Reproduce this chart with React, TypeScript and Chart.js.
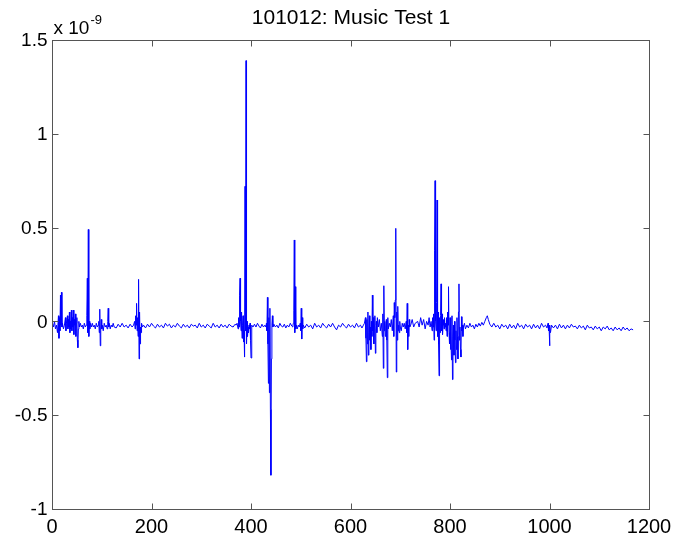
import React, { useEffect, useRef } from "react";
import { Chart, registerables } from "chart.js";

Chart.register(...registerables);

const TITLE = "101012: Music Test 1";
const EXPONENT_BASE = "x 10";
const EXPONENT_POWER = "-9";
const X_MIN = 0;
const X_MAX = 1200;
const X_STEP = 200;
const Y_MIN = -1;
const Y_MAX = 1.5;
const Y_STEP = 0.5;

// values in units of 1e-9, as [sample index, value]
const burstStart: [number, number][] = [
  [1, -0.01], [3, -0.03], [5, 0.0], [7, -0.04], [9, -0.02], [11, -0.06], [13, 0.03], [14, -0.09],
  [15, 0.02], [16, -0.05], [17, 0.14], [18, -0.02], [19, 0.155], [20, -0.03], [21, -0.01], [23, -0.04],
  [25, -0.02], [27, 0.02], [28, -0.05], [29, -0.01], [31, 0.03], [32, -0.04], [33, 0.01], [34, -0.03],
  [35, 0.05], [36, -0.06], [37, 0.0], [38, -0.04], [39, 0.06], [40, -0.05], [41, 0.02], [42, -0.03],
  [43, 0.06], [44, -0.07], [45, 0.01], [46, -0.02], [47, 0.04], [48, -0.08], [49, -0.01], [50, 0.02],
  [51, -0.1], [52, -0.14], [53, -0.04], [54, 0.0], [55, -0.03], [57, -0.01], [59, -0.03], [61, -0.02],
  [63, -0.04], [65, -0.01], [67, -0.03], [69, -0.02], [70, 0.03], [71, 0.23], [72, -0.06], [73, 0.49],
  [74, -0.08], [75, 0.0], [76, -0.04], [77, -0.01], [79, -0.03], [81, -0.01], [83, -0.03], [85, -0.02],
  [87, -0.04], [89, -0.01], [91, -0.03], [93, -0.02], [94, 0.0], [95, -0.06], [96, 0.065], [97, -0.13],
  [98, -0.05], [99, 0.01], [100, -0.04], [101, -0.02], [103, -0.05], [105, -0.01], [107, -0.03], [109, -0.02],
  [111, -0.04], [112, 0.0], [113, 0.07], [114, -0.03], [115, -0.01], [117, -0.04], [119, -0.02], [121, -0.03],
  [123, -0.01], [125, -0.03], [129, -0.035], [133, -0.015], [137, -0.03], [141, -0.01], [145, -0.03],
  [149, -0.02], [153, -0.035], [157, -0.015], [161, -0.03], [164, -0.02], [166, 0.0], [167, -0.04],
  [168, 0.03], [169, -0.02], [170, 0.096], [171, -0.05], [172, 0.02], [173, -0.08], [174, 0.224],
  [175, -0.2], [176, 0.05], [177, -0.12], [178, -0.03], [179, -0.06], [180, -0.01], [182, -0.03],
];

const quietA: [number, number][] = [
  [184, -0.02], [188, -0.035], [192, -0.015], [196, -0.03], [200, -0.01], [204, -0.025], [208, -0.035],
  [212, -0.015], [216, -0.03], [220, -0.02], [224, -0.035], [228, -0.01], [232, -0.025], [236, -0.015],
  [240, -0.035], [244, -0.02], [248, -0.03], [252, -0.01], [256, -0.025], [260, -0.035], [264, -0.015],
  [268, -0.03], [272, -0.02], [276, -0.035], [280, -0.015], [284, -0.025], [288, -0.02], [292, -0.035],
  [296, -0.01], [300, -0.03], [304, -0.02], [308, -0.035], [312, -0.015], [316, -0.025], [320, -0.035],
  [324, -0.01], [328, -0.03], [332, -0.02], [336, -0.035], [340, -0.015], [344, -0.03], [348, -0.02],
  [352, -0.035], [356, -0.015], [360, -0.025], [364, -0.03], [368, -0.015],
];

const burstMain: [number, number][] = [
  [370, -0.02], [372, -0.01], [374, -0.04], [375, 0.02], [376, -0.03], [377, 0.14], [378, 0.23], [379, 0.0],
  [380, -0.05], [381, 0.05], [382, -0.09], [383, -0.02], [384, 0.03], [385, -0.11], [386, -0.05], [387, -0.19],
  [388, 0.72], [389, -0.05], [390, 1.39], [391, -0.12], [392, 0.0], [393, -0.08], [394, -0.03], [395, -0.06],
  [396, -0.02], [397, -0.04], [398, -0.01], [399, -0.1], [400, -0.195], [401, -0.05], [402, -0.02],
  [404, -0.03], [407, -0.015], [410, -0.03], [413, -0.01], [416, -0.025], [419, -0.035], [422, -0.015],
  [425, -0.03], [428, -0.02], [430, -0.03], [431, -0.01], [432, -0.05], [433, 0.128], [434, -0.12],
  [435, -0.33], [436, 0.02], [437, -0.38], [438, 0.07], [439, -0.47], [440, -0.82], [441, -0.2], [442, -0.02],
  [443, 0.03], [444, -0.03], [446, -0.015], [449, -0.03], [452, -0.02], [455, -0.035], [458, -0.01],
  [461, -0.025], [464, -0.03], [467, -0.015], [470, -0.035], [473, -0.02], [476, -0.03], [479, -0.01],
  [482, -0.025], [484, -0.03], [485, -0.01], [486, 0.06], [487, 0.434], [488, -0.06], [489, 0.185],
  [490, -0.04], [491, -0.02], [493, -0.04], [495, -0.02], [497, -0.03], [499, -0.01], [500, -0.05],
  [501, 0.07], [502, -0.094], [503, 0.02], [504, -0.04],
];

const quietB: [number, number][] = [
  [505, -0.02], [508, -0.035], [512, -0.015], [516, -0.03], [520, -0.02], [524, -0.04], [528, -0.01],
  [532, -0.03], [536, -0.02], [540, -0.035], [544, -0.01], [548, -0.025], [552, -0.035], [556, -0.015],
  [560, -0.03], [564, -0.01], [568, -0.03], [572, -0.045], [576, -0.02], [580, -0.03], [584, -0.01],
  [588, -0.025], [592, -0.035], [596, -0.015], [600, -0.03], [604, -0.02], [608, -0.035], [612, -0.01],
  [616, -0.03], [620, -0.02], [623, -0.035],
];

const burstLate: [number, number][] = [
  [626, -0.02], [628, -0.01], [630, 0.02], [631, -0.09], [632, -0.215], [633, 0.01], [634, -0.12], [635, 0.05],
  [636, -0.18], [637, -0.06], [638, 0.03], [639, -0.1], [640, -0.03], [641, -0.15], [642, 0.0], [643, -0.08],
  [644, 0.14], [645, -0.05], [646, 0.02], [647, -0.12], [648, -0.02], [649, 0.03], [650, -0.17], [651, -0.04],
  [652, 0.0], [653, -0.06], [654, 0.02], [656, -0.03], [658, 0.01], [660, -0.05], [662, -0.01], [664, -0.08],
  [665, 0.04], [666, -0.25], [667, 0.19], [668, -0.05], [669, 0.0], [670, -0.08], [671, -0.03], [672, 0.01],
  [673, -0.1], [674, -0.3], [675, 0.02], [676, -0.04], [678, -0.01], [680, -0.03], [682, 0.01], [684, -0.05],
  [686, 0.03], [687, -0.08], [688, 0.1], [689, 0.02], [690, 0.114], [691, 0.496], [692, -0.27], [693, 0.05],
  [694, -0.1], [695, 0.08], [696, -0.05], [697, -0.02], [698, -0.06], [699, 0.0], [700, -0.03], [702, -0.05],
  [704, -0.01], [706, -0.03], [708, -0.01], [710, -0.04], [712, 0.0], [713, -0.06], [714, 0.096], [715, -0.15],
  [716, -0.02], [717, -0.08], [718, 0.01], [719, -0.03], [721, -0.02], [724, 0.01], [727, -0.03], [730, -0.01],
  [735, 0.0], [738, -0.03], [741, 0.02], [744, -0.02], [747, 0.01], [750, -0.04], [753, 0.0], [756, -0.02],
  [758, 0.02], [760, -0.03], [762, 0.0], [764, -0.05], [765, 0.02], [766, -0.03], [767, 0.04], [768, -0.1],
  [769, 0.38], [770, 0.75], [771, 0.0], [772, -0.05], [773, 0.1], [774, 0.647], [775, -0.08], [776, 0.05],
  [777, -0.12], [778, -0.29], [779, 0.02], [780, -0.06], [781, 0.03], [782, 0.2], [783, -0.05], [784, 0.04],
  [785, -0.07], [786, -0.02], [787, 0.01], [788, -0.04], [789, 0.02], [790, -0.03], [791, -0.01], [792, -0.05],
  [793, 0.02], [794, -0.08], [795, 0.05], [796, -0.02], [797, 0.185], [798, -0.06], [799, -0.12], [800, 0.02],
  [801, -0.15], [802, -0.05], [803, -0.205], [804, 0.03], [805, -0.31], [806, -0.08], [807, -0.02], [808, -0.18],
  [809, 0.0], [810, -0.1], [811, -0.22], [812, -0.05], [813, -0.15], [814, 0.02], [815, -0.08], [816, -0.2],
  [817, 0.05], [818, 0.2], [819, -0.1], [820, -0.03], [821, -0.15], [822, -0.19], [823, 0.025], [824, -0.05],
  [825, -0.02], [826, -0.08], [827, -0.03], [829, -0.01],
];

const quietEnd: [number, number][] = [
  [831, -0.04], [834, -0.02], [837, -0.035], [840, -0.01], [843, -0.03], [846, -0.02], [849, -0.04],
  [852, -0.015], [855, -0.03], [858, -0.01], [861, -0.025], [864, -0.005], [867, -0.02], [870, 0.0],
  [873, 0.02], [875, 0.03], [877, 0.01], [880, -0.015], [884, -0.03], [888, -0.01], [892, -0.03],
  [896, -0.02], [900, -0.04], [904, -0.015], [908, -0.03], [912, -0.02], [916, -0.04], [920, -0.015],
  [924, -0.035], [928, -0.02], [932, -0.04], [936, -0.01], [940, -0.03], [944, -0.02], [948, -0.04],
  [952, -0.015], [956, -0.03], [960, -0.02], [964, -0.04], [968, -0.015], [972, -0.035], [976, -0.02],
  [980, -0.04], [984, -0.01], [988, -0.03], [992, -0.02], [995, -0.035], [997, -0.01], [998, -0.05],
  [999, -0.02], [1000, -0.13], [1001, -0.03], [1002, -0.06], [1004, -0.02], [1008, -0.035], [1012, -0.02],
  [1016, -0.04], [1020, -0.015], [1024, -0.035], [1028, -0.02], [1032, -0.04], [1036, -0.02], [1040, -0.035],
  [1044, -0.015], [1048, -0.03], [1052, -0.025], [1056, -0.04], [1060, -0.02], [1064, -0.035], [1068, -0.025],
  [1072, -0.045], [1076, -0.02], [1080, -0.035], [1084, -0.03], [1088, -0.045], [1092, -0.025], [1096, -0.04],
  [1100, -0.03], [1104, -0.05], [1108, -0.03], [1112, -0.04], [1116, -0.025], [1120, -0.045], [1124, -0.035],
  [1128, -0.05], [1132, -0.03], [1136, -0.045], [1140, -0.035], [1144, -0.05], [1148, -0.03], [1152, -0.045],
  [1156, -0.035], [1160, -0.05], [1164, -0.04], [1168, -0.045],
];

const FONT = '"Liberation Sans", Arial, Helvetica, sans-serif';
const AXIS_COLOR = "#555555";
const LINE_COLOR = "rgb(0,0,255)";

const matlabAxes = {
  id: "matlabAxes",
  beforeDraw(chart: any) {
    const ctx = chart.ctx;
    ctx.save();
    ctx.fillStyle = "#ffffff";
    ctx.fillRect(0, 0, chart.width, chart.height);
    ctx.restore();
  },
  afterDraw(chart: any) {
    const ctx = chart.ctx;
    const { left, right, top, bottom } = chart.chartArea;
    const xs = chart.scales.x;
    const ys = chart.scales.y;
    ctx.save();
    ctx.strokeStyle = AXIS_COLOR;
    ctx.lineWidth = 1;
    const L = Math.round(left) + 0.5;
    const R = Math.round(right) + 0.5;
    const T = Math.round(top) + 0.5;
    const B = Math.round(bottom) + 0.5;
    ctx.strokeRect(L, T, R - L, B - T);
    const tl = 6;
    ctx.beginPath();
    xs.ticks.forEach((t: any) => {
      const px = Math.round(xs.getPixelForValue(t.value)) + 0.5;
      ctx.moveTo(px, B);
      ctx.lineTo(px, B - tl);
      ctx.moveTo(px, T);
      ctx.lineTo(px, T + tl);
    });
    ys.ticks.forEach((t: any) => {
      const py = Math.round(ys.getPixelForValue(t.value)) + 0.5;
      ctx.moveTo(L, py);
      ctx.lineTo(L + tl, py);
      ctx.moveTo(R, py);
      ctx.lineTo(R - tl, py);
    });
    ctx.stroke();

    ctx.fillStyle = "#000000";
    ctx.font = `20px ${FONT}`;
    ctx.textAlign = "center";
    ctx.textBaseline = "top";
    xs.ticks.forEach((t: any) => {
      const px = xs.getPixelForValue(t.value);
      ctx.fillText(String(t.label), px, B + 8);
    });
    ctx.font = `19px ${FONT}`;
    ctx.textAlign = "right";
    ctx.textBaseline = "middle";
    ys.ticks.forEach((t: any) => {
      const py = ys.getPixelForValue(t.value);
      ctx.fillText(String(t.label), L - 5, py + 1);
    });

    ctx.textAlign = "center";
    ctx.textBaseline = "alphabetic";
    ctx.font = `21px ${FONT}`;
    ctx.fillText(TITLE, (L + R) / 2, 24);

    ctx.textAlign = "left";
    ctx.font = `19px ${FONT}`;
    ctx.fillText(EXPONENT_BASE, L + 1, 34);
    const w = ctx.measureText(EXPONENT_BASE).width;
    ctx.font = `13px ${FONT}`;
    ctx.fillText(EXPONENT_POWER, L + 1 + w + 1, 24);
    ctx.restore();
  },
};

export default function App() {
  const canvasRef = useRef<HTMLCanvasElement | null>(null);

  useEffect(() => {
    const canvas = canvasRef.current;
    if (!canvas) return;
    const samples = [...burstStart, ...quietA, ...burstMain, ...quietB, ...burstLate, ...quietEnd];
    const chart = new Chart(canvas, {
      type: "line",
      data: {
        datasets: [
          {
            data: samples.map(([x, y]) => ({ x, y })),
            borderColor: LINE_COLOR,
            borderWidth: 1,
            pointRadius: 0,
            tension: 0,
            fill: false,
          },
        ],
      },
      options: {
        animation: false,
        responsive: false,
        events: [],
        layout: { padding: { left: 52, right: 28, top: 40, bottom: 33 } },
        plugins: { legend: { display: false }, tooltip: { enabled: false }, title: { display: false } },
        scales: {
          x: {
            type: "linear",
            min: X_MIN,
            max: X_MAX,
            ticks: { display: false, stepSize: X_STEP, callback: (v: any) => String(v) },
            grid: { display: false, drawTicks: false },
            border: { display: false },
          },
          y: {
            type: "linear",
            min: Y_MIN,
            max: Y_MAX,
            ticks: { display: false, stepSize: Y_STEP, callback: (v: any) => String(v) },
            grid: { display: false, drawTicks: false },
            border: { display: false },
          },
        },
      },
      plugins: [matlabAxes],
    });
    return () => chart.destroy();
  }, []);

  return (
    <div style={{ position: "fixed", left: 0, top: 0, width: 677, height: 542, background: "#fff" }}>
      <canvas ref={canvasRef} width={677} height={542} style={{ display: "block" }} />
    </div>
  );
}
